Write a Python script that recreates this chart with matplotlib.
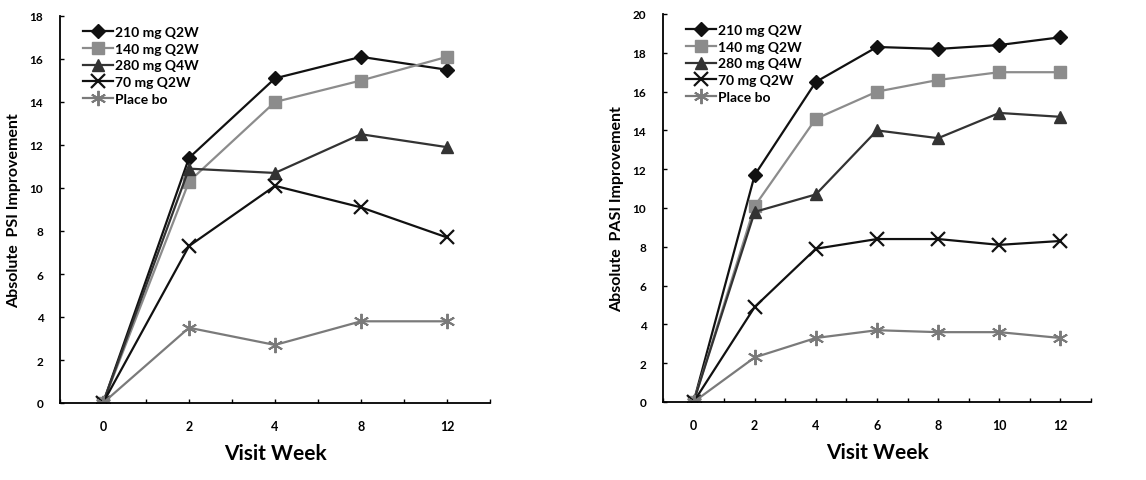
import numpy as np
import matplotlib.pyplot as plt

plt.rcParams['font.family'] = ['Lato', 'DejaVu Sans']

series_names = ["210 mg Q2W", "140 mg Q2W", "280 mg Q4W", "70 mg Q2W", "Place bo"]

# left panel: PSI
psi_weeks = ["0", "2", "4", "8", "12"]
psi_210 = [0, 11.4, 15.1, 16.1, 15.5]
psi_140 = [0, 10.3, 14.0, 15.0, 16.1]
psi_280 = [0, 10.9, 10.7, 12.5, 11.9]
psi_70 = [0, 7.3, 10.1, 9.1, 7.7]
psi_pbo = [0, 3.5, 2.7, 3.8, 3.8]

# right panel: PASI
pasi_weeks = ["0", "2", "4", "6", "8", "10", "12"]
pasi_210 = [0, 11.7, 16.5, 18.3, 18.2, 18.4, 18.8]
pasi_140 = [0, 10.1, 14.6, 16.0, 16.6, 17.0, 17.0]
pasi_280 = [0, 9.8, 10.7, 14.0, 13.6, 14.9, 14.7]
pasi_70 = [0, 4.9, 7.9, 8.4, 8.4, 8.1, 8.3]
pasi_pbo = [0, 2.3, 3.3, 3.7, 3.6, 3.6, 3.3]

styles = [
    dict(color="#111111", marker="D", ms=7, mfc="#111111"),
    dict(color="#8c8c8c", marker="s", ms=8, mfc="#8c8c8c"),
    dict(color="#333333", marker="^", ms=8, mfc="#333333"),
    dict(color="#111111", marker="x", ms=10, mew=1.6),
    dict(color="#7a7a7a", marker=(6, 2, 0), ms=11, mew=1.4),
]

fig = plt.figure(figsize=(11.46, 4.81), dpi=100)
W, H = 1146, 481
ax1 = fig.add_axes([60 / W, 1 - 404 / H, 430 / W, 387 / H])
ax2 = fig.add_axes([663 / W, 1 - 403 / H, 428 / W, 388 / H])


def draw(ax, weeks, data, ymax, ylabel):
    x = np.arange(len(weeks))
    for name, vals, st in zip(series_names, data, styles):
        ax.plot(x, vals, lw=1.6, label=name, **st)
    ax.set_xlim(-0.5, len(weeks) - 0.5)
    ax.set_ylim(0, ymax)
    ax.set_xticks(x)
    ax.set_xticklabels(weeks)
    ax.set_xticks(np.arange(-0.5, len(weeks), 0.5), minor=True)
    ax.set_yticks(np.arange(0, ymax + 1, 2))
    ax.spines["top"].set_visible(False)
    ax.spines["right"].set_visible(False)
    ax.spines["left"].set_linewidth(1.3)
    ax.spines["bottom"].set_linewidth(1.3)
    ax.tick_params(which="both", direction="in", length=3, width=1)
    ax.tick_params(axis="y", pad=12, labelsize=8.5)
    ax.tick_params(axis="x", pad=12, labelsize=9)
    for t in ax.get_xticklabels() + ax.get_yticklabels():
        t.set_fontweight("bold")
    ax.set_xlabel("Visit Week", fontsize=15, fontweight="bold", labelpad=8)
    ax.set_ylabel(ylabel, fontsize=11.5, fontweight="bold", labelpad=6)
    ax.legend(loc="upper left", frameon=False,
              prop=dict(size=10, weight="bold"),
              handlelength=2.2, handletextpad=0.1, labelspacing=0.35,
              borderaxespad=0.3, bbox_to_anchor=(0.03, 1.0))


draw(ax1, psi_weeks, [psi_210, psi_140, psi_280, psi_70, psi_pbo], 18,
     "Absolute  PSI Improvement")
draw(ax2, pasi_weeks, [pasi_210, pasi_140, pasi_280, pasi_70, pasi_pbo], 20,
     "Absolute  PASI Improvement")

fig.savefig("out.png", dpi=100)
